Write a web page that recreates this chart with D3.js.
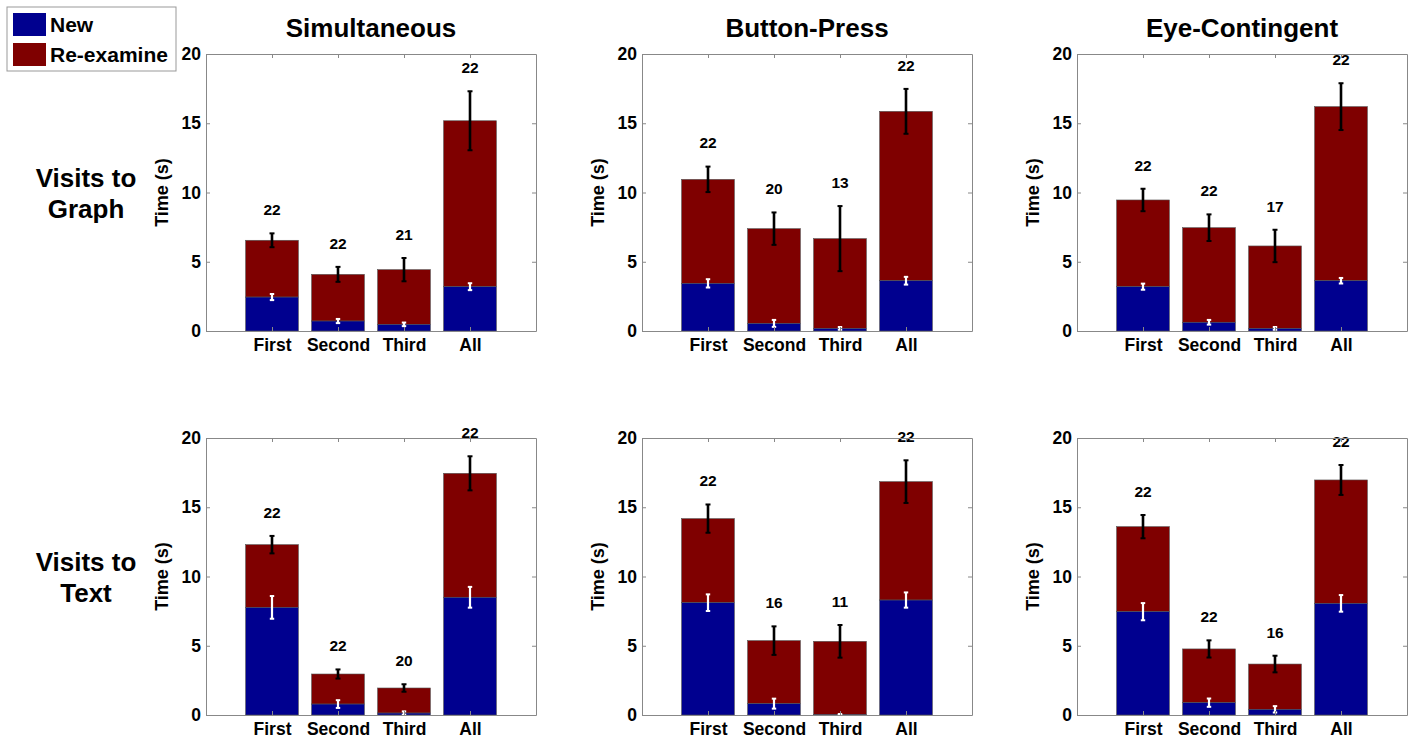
<!DOCTYPE html>
<html>
<head>
<meta charset="utf-8">
<script src="https://cdn.jsdelivr.net/npm/d3@7"></script>
<style>
  body { margin: 0; background: #fff; }
  svg { display: block; font-family: 'Liberation Sans', Arial, sans-serif; font-weight: bold; }
  .axis path, .axis line { stroke: #888; }
  .axis text { fill: #000; font-size: 17.5px; font-weight: bold; }
</style>
</head>
<body>
<svg id="chart" width="1413" height="739"></svg>
<script>
const categories = ['First', 'Second', 'Third', 'All']
const conditions = ['Simultaneous', 'Button-Press', 'Eye-Contingent']
const rowLabels = [['Visits to', 'Graph'], ['Visits to', 'Text']]
const yTicks = [0, 5, 10, 15, 20]

// visits to graph, one array per condition
const graphTotal = [[6.55, 4.09, 4.43, 15.18], [10.95, 7.39, 6.67, 15.86], [9.46, 7.46, 6.14, 16.2]]
const graphTotalErr = [[0.5, 0.54, 0.84, 2.13], [0.92, 1.17, 2.35, 1.62], [0.81, 0.96, 1.17, 1.69]]
const graphNew = [[2.45, 0.72, 0.48, 3.2], [3.44, 0.55, 0.19, 3.63], [3.2, 0.63, 0.19, 3.63]]
const graphNewErr = [[0.22, 0.15, 0.13, 0.25], [0.3, 0.25, 0.1, 0.28], [0.22, 0.17, 0.1, 0.2]]
const graphN = [[22, 22, 21, 22], [22, 20, 13, 22], [22, 22, 17, 22]]

// visits to text
const textTotal = [[12.3, 2.96, 1.95, 17.45], [14.18, 5.37, 5.32, 16.85], [13.6, 4.77, 3.68, 16.97]]
const textTotalErr = [[0.63, 0.33, 0.27, 1.23], [1.02, 1.03, 1.18, 1.54], [0.84, 0.62, 0.6, 1.08]]
const textNew = [[7.77, 0.79, 0.14, 8.5], [8.11, 0.82, 0.02, 8.3], [7.46, 0.89, 0.41, 8.06]]
const textNewErr = [[0.82, 0.28, 0.12, 0.75], [0.6, 0.36, 0.05, 0.55], [0.62, 0.3, 0.23, 0.6]]
const textN = [[22, 22, 20, 22], [22, 16, 11, 22], [22, 22, 16, 22]]

const rows = [
  { total: graphTotal, totalErr: graphTotalErr, newT: graphNew, newErr: graphNewErr, n: graphN },
  { total: textTotal, totalErr: textTotalErr, newT: textNew, newErr: textNewErr, n: textN },
]

const colorNew = '#00008f'
const colorRe = '#7f0000'

const panelLeft = [206, 642, 1077]
const panelTop = [54, 438]
const panelW = 330
const panelH = 277
const barWidth = 0.8
const labelGap = 1.7

const svg = d3.select('#chart')

const x = d3.scaleLinear().domain([0, 5]).range([0, panelW])
const y = d3.scaleLinear().domain([0, 20]).range([panelH, 0])

const errorBar = (g, cx, lo, hi, color, width, cap) => {
  g.append('line')
    .attr('x1', cx).attr('x2', cx)
    .attr('y1', y(lo)).attr('y2', y(hi))
    .attr('stroke', color).attr('stroke-width', width)
  for (const v of [lo, hi]) {
    g.append('line')
      .attr('x1', cx - cap).attr('x2', cx + cap)
      .attr('y1', y(v)).attr('y2', y(v))
      .attr('stroke', color).attr('stroke-width', 2)
  }
}

rows.forEach((row, r) => {
  conditions.forEach((cond, c) => {
    const g = svg.append('g')
      .attr('transform', `translate(${panelLeft[c]} ${panelTop[r]})`)

    const items = categories.map((name, i) => ({
      name,
      pos: i + 1,
      total: row.total[c][i],
      totalErr: row.totalErr[c][i],
      newT: row.newT[c][i],
      newErr: row.newErr[c][i],
      n: row.n[c][i],
    }))

    // re-examine part on top of new part
    g.selectAll('.re')
      .data(items)
      .join('rect')
      .attr('x', (d) => x(d.pos - barWidth / 2))
      .attr('width', x(barWidth) - x(0))
      .attr('y', (d) => y(d.total))
      .attr('height', (d) => y(d.newT) - y(d.total))
      .attr('fill', colorRe)
      .attr('stroke', '#555')
      .attr('stroke-width', 0.6)

    g.selectAll('.new')
      .data(items)
      .join('rect')
      .attr('x', (d) => x(d.pos - barWidth / 2))
      .attr('width', x(barWidth) - x(0))
      .attr('y', (d) => y(d.newT))
      .attr('height', (d) => y(0) - y(d.newT))
      .attr('fill', colorNew)
      .attr('stroke', '#555')
      .attr('stroke-width', 0.6)

    for (const d of items) {
      errorBar(g, x(d.pos), Math.max(0, d.newT - d.newErr), d.newT + d.newErr, '#fff', 2.2, 2.2)
      errorBar(g, x(d.pos), d.total - d.totalErr, d.total + d.totalErr, '#000', 2.6, 2.5)
    }

    g.selectAll('.count')
      .data(items)
      .join('text')
      .attr('x', (d) => x(d.pos))
      .attr('y', (d) => y(d.total + d.totalErr + labelGap))
      .attr('dy', '0.35em')
      .attr('text-anchor', 'middle')
      .attr('font-size', 15.5)
      .text((d) => d.n)

    // axes on all four sides, ticks pointing inward
    g.append('g').classed('axis', true)
      .call(d3.axisLeft(y).tickValues(yTicks).tickSize(-4).tickSizeOuter(0).tickPadding(5))
    g.append('g').classed('axis', true)
      .attr('transform', `translate(${panelW} 0)`)
      .call(d3.axisRight(y).tickValues(yTicks).tickSize(-4).tickSizeOuter(0).tickFormat(''))
    g.append('g').classed('axis', true)
      .attr('transform', `translate(0 ${panelH})`)
      .call(d3.axisBottom(x).tickValues([1, 2, 3, 4]).tickSize(-4).tickSizeOuter(0)
        .tickPadding(8).tickFormat((d) => categories[d - 1]))
    g.append('g').classed('axis', true)
      .call(d3.axisTop(x).tickValues([1, 2, 3, 4]).tickSize(-4).tickSizeOuter(0).tickFormat(''))
    g.selectAll('.axis text').attr('font-family', null)

    g.append('text')
      .attr('transform', `translate(-38 ${panelH / 2}) rotate(-90)`)
      .attr('text-anchor', 'middle')
      .attr('font-size', 18)
      .text('Time (s)')

    if (r === 0) {
      g.append('text')
        .attr('x', panelW / 2)
        .attr('y', -17)
        .attr('text-anchor', 'middle')
        .attr('font-size', 26)
        .text(cond)
    }
  })

  const label = svg.append('text')
    .attr('text-anchor', 'middle')
    .attr('font-size', 26)
  rowLabels[r].forEach((line, k) => {
    label.append('tspan')
      .attr('x', 86)
      .attr('y', panelTop[r] + 133 + k * 31)
      .text(line)
  })
})

// legend
const legend = svg.append('g').attr('transform', 'translate(7 7)')
legend.append('rect')
  .attr('width', 169).attr('height', 64)
  .attr('fill', '#fff').attr('stroke', '#999')
const keys = [['New', colorNew], ['Re-examine', colorRe]]
keys.forEach(([name, color], i) => {
  legend.append('rect')
    .attr('x', 6).attr('y', 6 + i * 30)
    .attr('width', 33).attr('height', 23)
    .attr('fill', color)
  legend.append('text')
    .attr('x', 43).attr('y', 25 + i * 30)
    .attr('font-size', 21)
    .text(name)
})
</script>
</body>
</html>
